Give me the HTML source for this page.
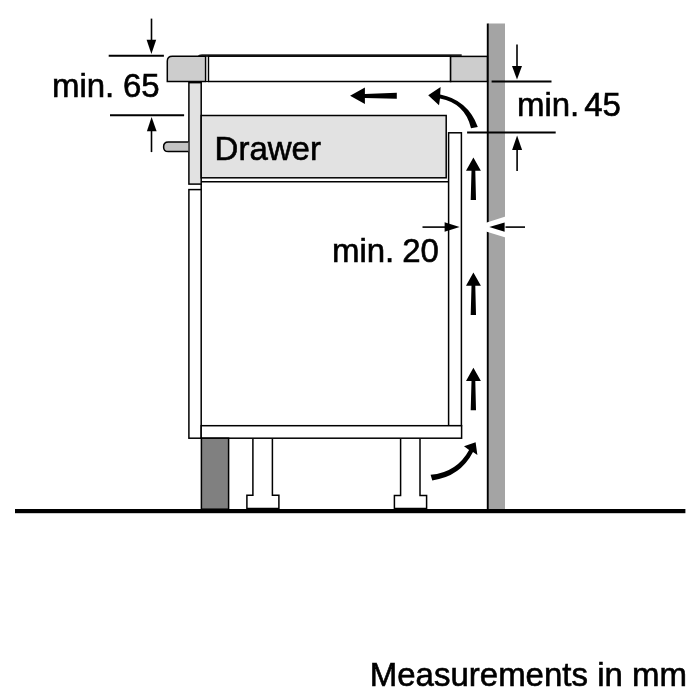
<!DOCTYPE html>
<html><head><meta charset="utf-8">
<style>
html,body{margin:0;padding:0;background:#fff;width:700px;height:700px;overflow:hidden}
svg{display:block;will-change:transform}
text{font-family:"Liberation Sans",sans-serif;font-size:33px;fill:#000;stroke:#000;stroke-width:0.6px}
</style></head>
<body>
<svg width="700" height="700" viewBox="0 0 700 700">
<rect x="0" y="0" width="700" height="700" fill="#fff"/>

<!-- wall -->
<rect x="488" y="23.5" width="17" height="486" fill="#a4a4a4"/>
<rect x="486.8" y="23.5" width="1.9" height="486" fill="#000"/>

<g fill="none" stroke="#000" stroke-width="1.5">
<!-- hob top edge -->
<path d="M197.7 56.6 Q198.5 54.3 202 54.3 L461.7 54.3 L461.7 56.6 Z" fill="#2a2a2a" stroke="none"/>
<!-- hob body -->
<rect x="208.4" y="56.2" width="242.2" height="25.3" fill="#fff"/>
<!-- left worktop -->
<path d="M167.3 81.5 L167.3 61.1 Q167.3 56.2 172.3 56.2 L205.6 56.2 L205.6 81.5 Z" fill="#cdcdcd"/>
<rect x="205.6" y="56.2" width="2.9" height="25.3" fill="#d4d4d4" stroke-width="1.1"/>
<!-- right worktop -->
<rect x="450.6" y="56.4" width="36.8" height="25.1" fill="#cdcdcd"/>

<!-- upper side panel -->
<rect x="188.9" y="82.2" width="12.3" height="101.9" fill="#e2e2e2"/>
<line x1="188.9" y1="82.4" x2="201.2" y2="82.4" stroke-width="2"/>
<!-- handle -->
<path d="M188.3 142.1 L168.3 142.1 Q163.6 142.1 163.6 146.9 Q163.6 151.6 168.3 151.6 L188.3 151.6" fill="#c4c4c4"/>
<!-- drawer -->
<rect x="201.2" y="115.5" width="245" height="62.3" fill="#e2e2e2"/>
<line x1="201.2" y1="181.7" x2="448.6" y2="181.7"/>

<!-- lower side panel -->
<rect x="188.9" y="189.6" width="12.3" height="248.6" fill="#fff"/>
<!-- cabinet right (back) line -->
<line x1="201.2" y1="184" x2="201.2" y2="189.6"/>
<!-- narrow panel -->
<rect x="448.6" y="132.8" width="12.8" height="292.9" fill="#fff"/>
<!-- bottom shelf -->
<rect x="201.2" y="425.7" width="260.4" height="12.5" fill="#fff"/>

<!-- plinth -->
<rect x="201.4" y="438.2" width="27.2" height="71" fill="#808080"/>
<!-- feet -->
<path d="M252.9 439 L252.9 495.2 L246.9 495.2 L246.9 508.5 L278.9 508.5 L278.9 495.2 L272.4 495.2 L272.4 439" fill="#fff"/>
<path d="M400.6 439 L400.6 495.6 L394.4 495.6 L394.4 508.5 L426.6 508.5 L426.6 495.6 L420 495.6 L420 439" fill="#fff"/>
</g>

<!-- floor -->
<rect x="15" y="509" width="670.4" height="4.2" fill="#000"/>

<!-- min. 65 dimension -->
<g stroke="#000" stroke-width="1.8">
<line x1="108.7" y1="55.8" x2="163.9" y2="55.8" stroke-width="2"/>
<line x1="110" y1="115.2" x2="184.1" y2="115.2" stroke-width="2"/>
<line x1="151.5" y1="18.6" x2="151.5" y2="42" stroke-width="1.6"/>
<line x1="151.5" y1="128" x2="151.5" y2="152.1" stroke-width="1.6"/>
<line x1="491.6" y1="81.6" x2="551.5" y2="81.6" stroke-width="2"/>
<line x1="467.1" y1="132.4" x2="555.7" y2="132.4" stroke-width="2"/>
<line x1="517" y1="44.6" x2="517" y2="68" stroke-width="1.6"/>
<line x1="517.1" y1="148" x2="517.1" y2="171" stroke-width="1.6"/>
<line x1="422.5" y1="227.1" x2="446" y2="227.1" stroke-width="1.6"/>
<line x1="503" y1="227.1" x2="525" y2="227.1" stroke-width="1.6"/>
</g>
<path d="M146.6 39.8 L156.2 39.8 L151.4 54 Z" fill="#000"/>
<path d="M146.9 131.3 L156.6 131.3 L151.6 117 Z" fill="#000"/>
<path d="M512 66 L522 66 L517 79.6 Z" fill="#000"/>
<path d="M512.1 150 L522.1 150 L517.1 135.6 Z" fill="#000"/>
<path d="M444.6 222.2 L444.6 231.8 L459.6 227.1 Z" fill="#000"/>
<path d="M505.5 216.4 L505.5 237.6 L486 231.4 L486 222.8 Z" fill="#fff"/>
<path d="M504.6 222.5 L504.6 231.8 L489.3 227.1 Z" fill="#000"/>

<text transform="translate(51.9 97) scale(1 1.03)">min.</text>
<text transform="translate(123 97) scale(1 1.03)">65</text>
<text transform="translate(516.9 115.7) scale(1 1.03)">min.</text>
<text transform="translate(584.2 115.7) scale(1 1.03)">45</text>
<text transform="translate(331.9 261.5) scale(1 1.03)">min.</text>
<text transform="translate(402.2 261.5) scale(1 1.03)">20</text>
<text transform="translate(214.6 160.3) scale(1 1.03)">Drawer</text>
<text transform="translate(369.8 685.9) scale(1 1.03)">Measurements in mm</text>

<!-- airflow arrows -->
<path id="ua" d="M473.4 157.5 L480.9 170.7 L475.3 170.7 L476 199.9 L470.7 199.9 L471.5 170.7 L466 170.7 Z" fill="#000"/>
<path d="M473.4 157.5 L480.9 170.7 L475.3 170.7 L476 199.9 L470.7 199.9 L471.5 170.7 L466 170.7 Z" fill="#000" transform="translate(0 115)"/>
<path d="M473.4 157.5 L480.9 170.7 L475.3 170.7 L476 199.9 L470.7 199.9 L471.5 170.7 L466 170.7 Z" fill="#000" transform="translate(0 210.3)"/>

<!-- left arrow under hob -->
<path d="M350.1 95.7 L364.9 87.6 L364.9 94 L396.8 92.7 L396.8 98.7 L364.9 97.9 L364.9 103.9 Z" fill="#000"/>
<!-- curved arrow top -->
<path d="M428.2 95.3 L440.6 87 L440.2 94.6 Q467.5 99.8 477.8 126.9 L471 128.3 Q465.1 103.3 440 98.6 L439 105.3 Z" fill="#000"/>
<!-- curved arrow bottom -->
<path d="M475.6 442.3 L477.4 455.1 L473 452.1 Q460.2 476.8 432.3 480.4 L430.6 474.8 Q456.8 472.6 469.1 450 L464 446.3 Z" fill="#000"/>
</svg>
</body></html>
